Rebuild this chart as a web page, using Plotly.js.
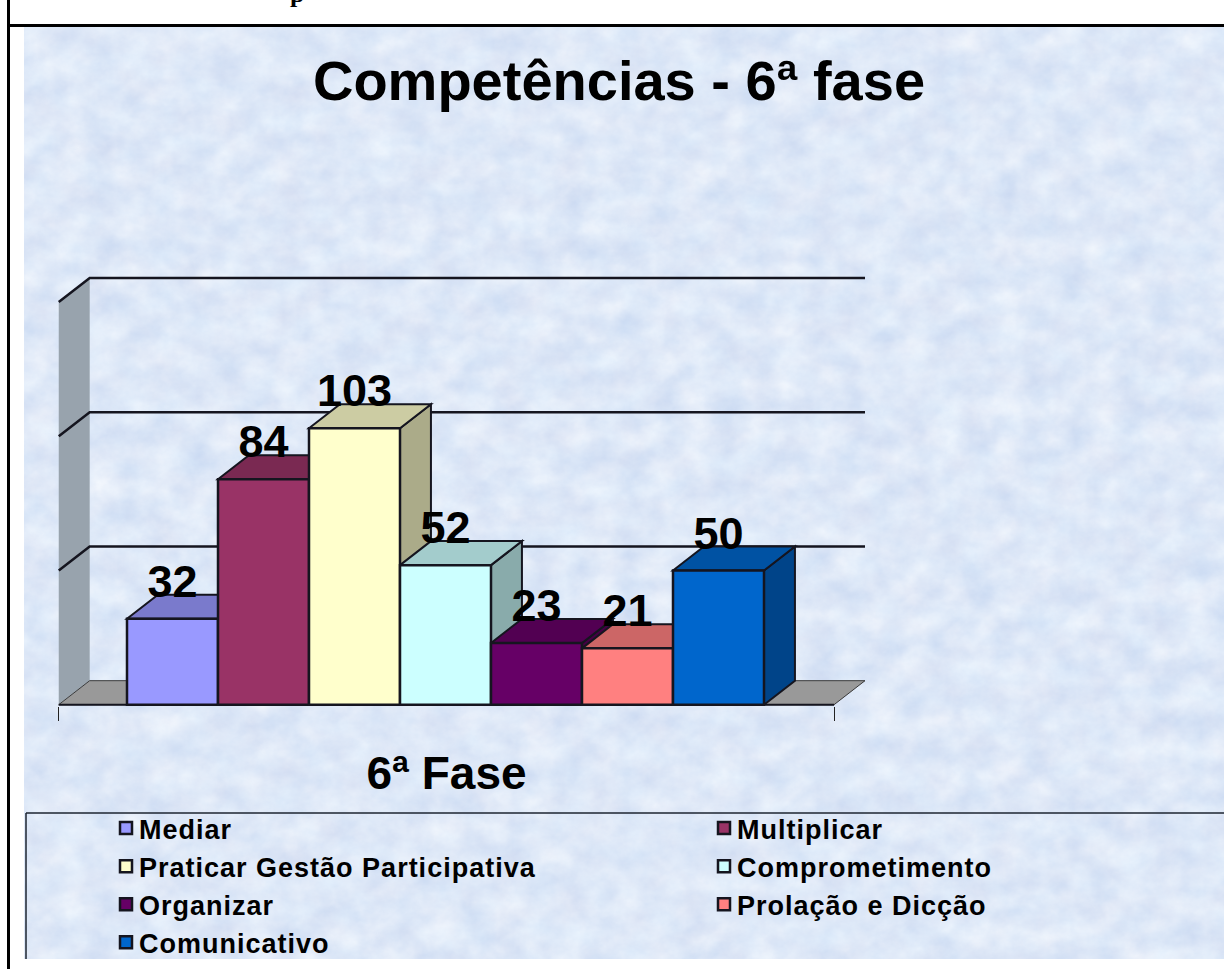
<!DOCTYPE html>
<html>
<head>
<meta charset="utf-8">
<script src="https://cdn.plot.ly/plotly-3.0.1.min.js"></script>
<style>
html,body{margin:0;padding:0;background:#fff;width:1224px;height:969px;overflow:hidden}
#tex{position:absolute;left:24px;top:27px;width:1200px;height:932px}
#frameL{position:absolute;left:7px;top:0;width:3px;height:969px;background:#000}
#frameT{position:absolute;left:7px;top:24px;width:1217px;height:3px;background:#000}
#clip{position:absolute;left:0;top:0;width:1224px;height:969px;overflow:hidden}
#chart{position:absolute;left:0;top:0;width:1400px;height:969px}
#chart .legendtext{letter-spacing:1px;transform:translateX(-7px)}
</style>
</head>
<body>
<svg id="tex" xmlns="http://www.w3.org/2000/svg" width="1200" height="932">
  <filter id="marble" x="0" y="0" width="100%" height="100%" color-interpolation-filters="sRGB">
    <feTurbulence type="fractalNoise" baseFrequency="0.032 0.038" numOctaves="7" seed="11"/>
    <feColorMatrix type="matrix" values="0.13 0.07 0 0 0.77  0.11 0.03 0 0 0.84  0.05 0 0 0 0.945  0 0 0 0 1"/>
  </filter>
  <rect width="1200" height="932" filter="url(#marble)"/>
</svg>
<div id="frameL"></div>
<div id="frameT"></div>
<div id="clip"><div id="chart"></div></div>
<script>
// ---- data ----
const categories = ["Mediar","Multiplicar","Praticar Gestão Participativa","Comprometimento","Organizar","Prolação e Dicção","Comunicativo"];
const values = [32,84,103,52,23,21,50];
const colors = ["#9999FF","#993366","#FFFFCC","#CCFFFF","#660066","#FF8080","#0066CC"];
const gridValues = [50,100,150];
const chartTitle = "Competências - 6ª fase";
const axisTitle = "6ª Fase";

// ---- pseudo-3D geometry in axis units ----
const depthX = 0.34, depthY = 8.95, halfBar = 0.5;
const floorL = -1.25, floorR = 7.27;
const pxW = 1400, pxH = 969;
const labelDrop = 5;

function shade(hex, k){
  const n = parseInt(hex.slice(1),16);
  const c = [(n>>16)&255,(n>>8)&255,n&255].map(v=>Math.round(v*k));
  return `rgb(${c[0]},${c[1]},${c[2]})`;
}
function poly(pts){ return "M"+pts.map(p=>p[0]+","+p[1]).join(" L")+" Z"; }
function shape(path, fill, lineColor, lw){
  return {type:"path", xref:"x", yref:"y", layer:"below", path:path, fillcolor:fill,
          line:{color:lineColor, width:lw}};
}
const ink = "#15151f";
const shapes = [];
// left wall, floor
shapes.push(shape(poly([[floorL,0],[floorL+depthX,depthY],[floorL+depthX,150+depthY],[floorL,150]]),"#98a3ad","rgba(0,0,0,0)",0));
shapes.push(shape(poly([[floorL,0],[floorL+depthX,depthY],[floorR+depthX,depthY],[floorR,0]]),"#999999","#3a3a3a",1));
// grid lines on wall
gridValues.forEach(v=>{
  shapes.push({type:"path", xref:"x", yref:"y", layer:"below",
    path:`M${floorL},${v} L${floorL+depthX},${v+depthY} L${floorR+depthX},${v+depthY}`,
    line:{color:ink,width:2.5}});
});
// base line of the front plane
shapes.push({type:"line",xref:"x",yref:"y",layer:"below",x0:floorL,x1:floorR,y0:0,y1:0,line:{color:ink,width:2}});
// tops and sides
values.forEach((v,i)=>{
  const L=i-halfBar,R=i+halfBar;
  shapes.push(shape(poly([[R,0],[R+depthX,depthY],[R+depthX,v+depthY],[R,v]]),shade(colors[i],0.67),ink,2));
  shapes.push(shape(poly([[L,v],[L+depthX,v+depthY],[R+depthX,v+depthY],[R,v]]),shade(colors[i],0.8),ink,2));
});
// legend frame
shapes.push({type:"line",xref:"paper",yref:"paper",x0:26/pxW,x1:1,y0:1-813/pxH,y1:1-813/pxH,line:{color:"#1c2430",width:1.5}});
shapes.push({type:"line",xref:"paper",yref:"paper",x0:26/pxW,x1:26/pxW,y0:1-813/pxH,y1:1-959/pxH,line:{color:"#1c2430",width:1.5}});

const traces = categories.map((name,i)=>({
  type:"bar", name:name, x:[i], y:[values[i]], width:[1],
  marker:{color:colors[i], line:{color:ink,width:2.5}},
  hoverinfo:"name+y"
}));
traces.push({
  type:"scatter", mode:"text", showlegend:false, hoverinfo:"skip", cliponaxis:false,
  x:values.map((v,i)=>i),
  y:values.map(v=>v+depthY-labelDrop),
  text:values.map(String),
  textposition:"top center",
  textfont:{family:"Liberation Sans",size:45,weight:700,color:"#000"}
});

const layout = {
  width:pxW, height:pxH, autosize:false,
  margin:{l:0,r:0,t:0,b:0,pad:0,autoexpand:false},
  paper_bgcolor:"rgba(0,0,0,0)", plot_bgcolor:"rgba(0,0,0,0)",
  barmode:"overlay",
  title:{text:chartTitle, xref:"paper", yref:"paper", x:619/pxW, xanchor:"center", y:1-80/pxH, yanchor:"middle",
         font:{family:"Liberation Sans",size:56,weight:700,color:"#000"}},
  xaxis:{domain:[28/pxW,865/pxW], range:[(28-172.5)/91,(865-172.5)/91], showgrid:false, zeroline:false, showline:false,
         ticks:"outside", tickmode:"array", tickvals:[floorL,floorR], ticklen:14, tickwidth:1, tickcolor:"#222",
         showticklabels:false, fixedrange:true,
         title:{text:axisTitle, standoff:36, font:{family:"Liberation Sans",size:46,weight:700,color:"#000"}}},
  yaxis:{domain:[1-706.04/pxH,1-269.9/pxH], range:[-0.5,162], showgrid:false, zeroline:false, showline:false,
         showticklabels:false, ticks:"", fixedrange:true},
  shapes:shapes,
  showlegend:true,
  legend:{orientation:"h", x:106/pxW, xanchor:"left", y:1-804/pxH, yanchor:"top",
          entrywidth:553, entrywidthmode:"pixels", traceorder:"normal", bgcolor:"rgba(0,0,0,0)", borderwidth:0,
          font:{family:"Liberation Sans",size:27,weight:700,color:"#000"}},
  annotations:[{xref:"paper",yref:"paper",x:297/pxW,y:1-(-6)/pxH,xanchor:"center",yanchor:"middle",showarrow:false,
                text:"p",font:{family:"Liberation Serif",size:26,weight:700,color:"#000"}}]
};
Plotly.newPlot("chart",traces,layout,{displayModeBar:false,staticPlot:true});
</script>
</body>
</html>
